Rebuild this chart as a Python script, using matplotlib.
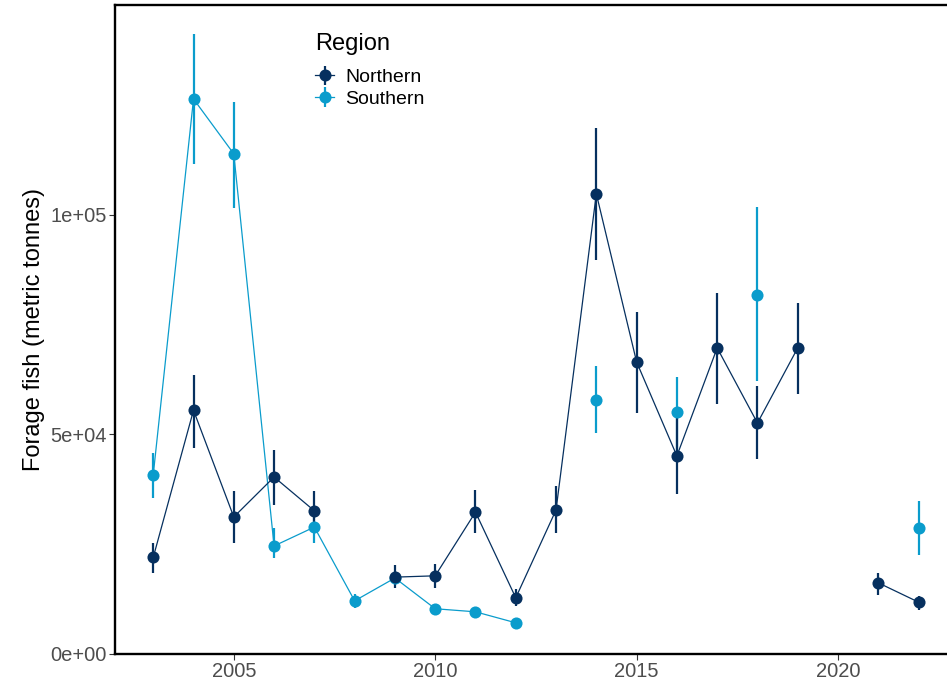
import numpy as np
import matplotlib.pyplot as plt

nan = np.nan
years = list(range(2003, 2023))

# Northern region estimates with lower/upper bounds
north = [22000, 55500, 31200, 40300, 32600, nan, 17500, 17800, 32300, 12800,
         32800, 104800, 66500, 45100, 69700, 52600, 69700, nan, 16200, 11800]
north_lo = [18500, 47000, 25300, 34000, 28700, nan, 15000, 15000, 27600, 10900,
            27600, 89700, 54900, 36400, 56900, 44400, 59200, nan, 13400, 10000]
north_hi = [25300, 63500, 37100, 46500, 37100, nan, 20300, 20600, 37400, 14800,
            38300, 119800, 77900, 55100, 82200, 61000, 80000, nan, 18500, 13200]

# Southern region estimates with lower/upper bounds
south = [40800, 126400, 113900, 24600, 28900, 12100, 17300, 10300, 9600, 7100,
         nan, 57900, nan, 55100, nan, 81800, nan, nan, nan, 28700]
south_lo = [35500, 111600, 101600, 21900, 25300, 10500, 15800, 9400, 8700, 6300,
            nan, 50300, nan, 44600, nan, 62200, nan, nan, nan, 22600]
south_hi = [45800, 141200, 125700, 28700, 32100, 13700, 18800, 11200, 10500, 7900,
            nan, 65600, nan, 63100, nan, 101800, nan, nan, nan, 34900]

regions = ["Northern", "Southern"]
colors = {"Northern": "#06305f", "Southern": "#0a9ccc"}

plt.rcParams['font.family'] = ['Liberation Sans', 'DejaVu Sans']

fig = plt.figure(figsize=(9.47, 6.83), dpi=100)
ax = fig.add_axes([0.1214, 0.0425, 0.889, 0.9502])

series = {
    "Southern": (south, south_lo, south_hi),
    "Northern": (north, north_lo, north_hi),
}
handles = {}
for name in ["Southern", "Northern"]:
    y, lo, hi = (np.array(a, dtype=float) for a in series[name])
    c = colors[name]
    ax.plot(years, y, color=c, lw=0.9, zorder=2)
    ax.vlines(years, lo, hi, color=c, lw=1.6, zorder=3)
    ax.plot(years, y, 'o', color=c, ms=8.7, mec='none', zorder=4)
    handles[name] = ax.errorbar([], [], yerr=[], color=c, marker='o', ms=8.7,
                                mec='none', lw=0.9, elinewidth=1.6, capsize=0)

ax.set_xlim(2002.05, 2022.95)
ax.set_ylim(0, 147800)
ax.set_xticks([2005, 2010, 2015, 2020])
ax.set_yticks([0, 50000, 100000])
ax.set_yticklabels(["0e+00", "5e+04", "1e+05"])

for s in ["left", "bottom", "top"]:
    ax.spines[s].set_linewidth(1.7)
    ax.spines[s].set_color("black")
ax.spines["right"].set_visible(False)
ax.tick_params(axis="both", length=4, width=0.8, color="#333333",
               labelcolor="#4d4d4d", labelsize=14.5, pad=2)

ax.set_ylabel("Forage fish (metric tonnes)", fontsize=17, color="black", labelpad=4)

# legend title drawn separately so the gap to the keys can be set
ax.text(0.2375, 0.940, "Region", transform=ax.transAxes, fontsize=17,
        ha="left", va="center")
ax.legend([handles[r] for r in regions], regions,
          loc="upper left", bbox_to_anchor=(0.2375, 0.902), frameon=False,
          fontsize=14, handlelength=1.0, handletextpad=0.55,
          labelspacing=0.2, borderpad=0, borderaxespad=0)

fig.savefig("out.png", dpi=100)
